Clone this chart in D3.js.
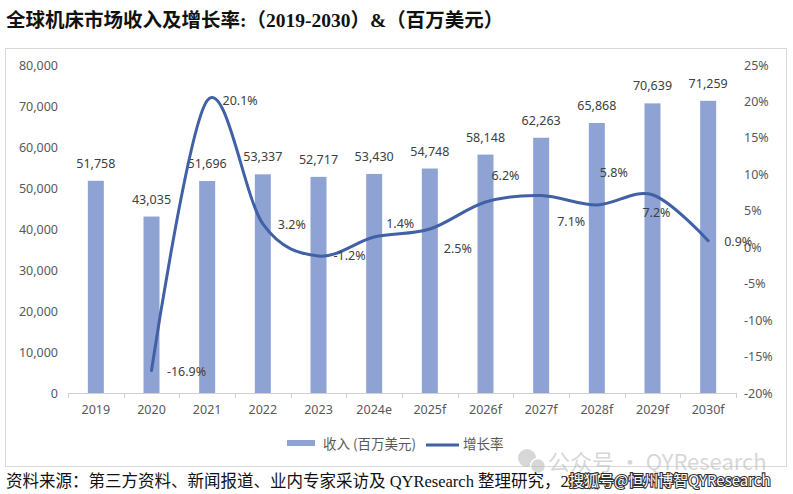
<!DOCTYPE html>
<html>
<head>
<meta charset="utf-8">
<script src="https://cdn.jsdelivr.net/npm/d3@7/dist/d3.min.js"></script>
<style>
  html, body { margin: 0; padding: 0; background: #fff; }
  svg { display: block; }
</style>
</head>
<body>
<svg id="chart" width="793" height="494"></svg>
<script>
// ---- data ----
const categories = ["2019","2020","2021","2022","2023","2024e","2025f","2026f","2027f","2028f","2029f","2030f"];
const revenue = [51758, 43035, 51696, 53337, 52717, 53430, 54748, 58148, 62263, 65868, 70639, 71259];
const growth = [null, -16.9, 20.1, 3.2, -1.2, 1.4, 2.5, 6.2, 7.1, 5.8, 7.2, 0.9];
const leftTicks = [0, 10000, 20000, 30000, 40000, 50000, 60000, 70000, 80000];
const rightTicks = [-20, -15, -10, -5, 0, 5, 10, 15, 20, 25];
const titleText = "全球机床市场收入及增长率:（2019-2030）&（百万美元）";
const legendBar = "收入 (百万美元)";
const legendLine = "增长率";
const sourceText = "资料来源：第三方资料、新闻报道、业内专家采访及 QYResearch 整理研究，2024 年";

// ---- styling / layout ----
const barColor = "#8ea2d4";
const lineColor = "#4061a6";
const axisText = "#595959";
const labelText = "#404040";
const numFont = "'Noto Sans', 'Open Sans', sans-serif";
const cjkFont = "'Noto Sans CJK SC', 'Noto Sans', sans-serif";
const serifFont = "'Liberation Serif', 'Noto Sans CJK SC', serif";
// label offsets for growth labels (relative to point)
const growthLabelOffset = [null,[35,1],[33,0],[29,1],[31,0],[26,-14],[28,19],[20,-27],[30,26],[17,-32],[4,18],[30,1]];

const svg = d3.select("#chart");

// title
svg.append("text").attr("x", 6).attr("y", 27)
  .attr("font-family", serifFont).attr("font-weight", "bold")
  .attr("font-size", 19.5).attr("fill", "#111").text(titleText);

// border
svg.append("rect").attr("x", 5.5).attr("y", 48.5).attr("width", 781).attr("height", 418)
  .attr("fill", "none").attr("stroke", "#d9d9d9").attr("stroke-width", 1);

const x = d3.scaleBand().domain(categories).range([68, 736])
  .paddingInner(0.7126).paddingOuter(0.3563);
const yL = d3.scaleLinear().domain([0, 80000]).range([393, 65]);
const yR = d3.scaleLinear().domain([-20, 25]).range([393, 65]);

// left axis
const gL = svg.append("g").attr("transform", "translate(60,0)")
  .call(d3.axisLeft(yL).tickValues(leftTicks).tickFormat(d3.format(",")).tickSize(0).tickPadding(2));
gL.select(".domain").remove();
gL.selectAll("text").attr("font-family", numFont).attr("font-size", 12.5).attr("fill", axisText);

// right axis
const gR = svg.append("g").attr("transform", "translate(742,0)")
  .call(d3.axisRight(yR).tickValues(rightTicks).tickFormat(d => d + "%").tickSize(0).tickPadding(2));
gR.select(".domain").remove();
gR.selectAll("text").attr("font-family", numFont).attr("font-size", 12.5).attr("fill", axisText);

// bars
svg.append("g").selectAll("rect").data(categories).join("rect")
  .attr("x", d => x(d)).attr("width", x.bandwidth())
  .attr("y", (d, i) => yL(revenue[i])).attr("height", (d, i) => yL(0) - yL(revenue[i]))
  .attr("fill", barColor);

// x axis
const gX = svg.append("g").attr("transform", "translate(0,393)")
  .call(d3.axisBottom(x).tickSize(0).tickPadding(12));
gX.select(".domain").attr("stroke", "#d0d0d0").attr("d", "M68,0.5H736");
gX.selectAll("text").attr("font-family", numFont).attr("font-size", 12.5).attr("fill", axisText);
const step = x.step();
svg.append("g").selectAll("line").data(d3.range(categories.length + 1)).join("line")
  .attr("x1", i => Math.round(68 + i * step) + 0.5).attr("x2", i => Math.round(68 + i * step) + 0.5)
  .attr("y1", 393).attr("y2", 398).attr("stroke", "#d0d0d0");

// bar labels
svg.append("g").selectAll("text").data(categories).join("text")
  .attr("x", d => x(d) + x.bandwidth() / 2).attr("y", (d, i) => yL(revenue[i]) - 13)
  .attr("text-anchor", "middle").attr("font-family", numFont).attr("font-size", 12.5)
  .attr("fill", labelText).text((d, i) => d3.format(",")(revenue[i]));

// growth line
const pts = categories.map((c, i) => ({c, v: growth[i], i})).filter(p => p.v !== null);
const line = d3.line().x(p => x(p.c) + x.bandwidth() / 2).y(p => yR(p.v))
  .curve(d3.curveCardinal.tension(0));
svg.append("path").datum(pts).attr("d", line).attr("fill", "none")
  .attr("stroke", lineColor).attr("stroke-width", 3).attr("stroke-linecap", "round");

// growth labels
svg.append("g").selectAll("text").data(pts).join("text")
  .attr("x", p => x(p.c) + x.bandwidth() / 2 + growthLabelOffset[p.i][0])
  .attr("y", p => yR(p.v) + growthLabelOffset[p.i][1] + 4.5)
  .attr("text-anchor", "middle").attr("font-family", numFont).attr("font-size", 12.5)
  .attr("fill", labelText).text(p => p.v.toFixed(1) + "%");

// legend
const lg = svg.append("g");
lg.append("rect").attr("x", 287).attr("y", 440).attr("width", 28).attr("height", 6).attr("fill", barColor);
lg.append("text").attr("x", 323).attr("y", 449).attr("font-family", cjkFont).attr("font-size", 13.5)
  .attr("fill", axisText).text(legendBar);
lg.append("line").attr("x1", 426).attr("x2", 459).attr("y1", 445).attr("y2", 445)
  .attr("stroke", lineColor).attr("stroke-width", 3);
lg.append("text").attr("x", 463).attr("y", 449).attr("font-family", cjkFont).attr("font-size", 13.5)
  .attr("fill", axisText).text(legendLine);

// wechat watermark
const wm = svg.append("g").attr("opacity", 0.55);
wm.append("circle").attr("cx", 527).attr("cy", 458).attr("r", 9).attr("fill", "#b8b8b8");
wm.append("circle").attr("cx", 538).attr("cy", 466).attr("r", 7.5).attr("fill", "#b8b8b8").attr("stroke", "#fff").attr("stroke-width", 1.5);
wm.append("text").attr("x", 548).attr("y", 470).attr("font-family", cjkFont).attr("font-size", 22)
  .attr("fill", "#b8b8b8").text("公众号 · QYResearch");

// source footer
svg.append("text").attr("x", 6).attr("y", 487).attr("font-family", serifFont)
  .attr("font-size", 16.5).attr("fill", "#111").text(sourceText);

// sohu watermark
svg.append("text").attr("x", 569).attr("y", 486).attr("font-family", cjkFont)
  .attr("font-size", 15).attr("fill", "#fff").attr("stroke", "#333").attr("stroke-width", 2.2)
  .attr("paint-order", "stroke").text("搜狐号@恒州博智QYResearch");
</script>
</body>
</html>
